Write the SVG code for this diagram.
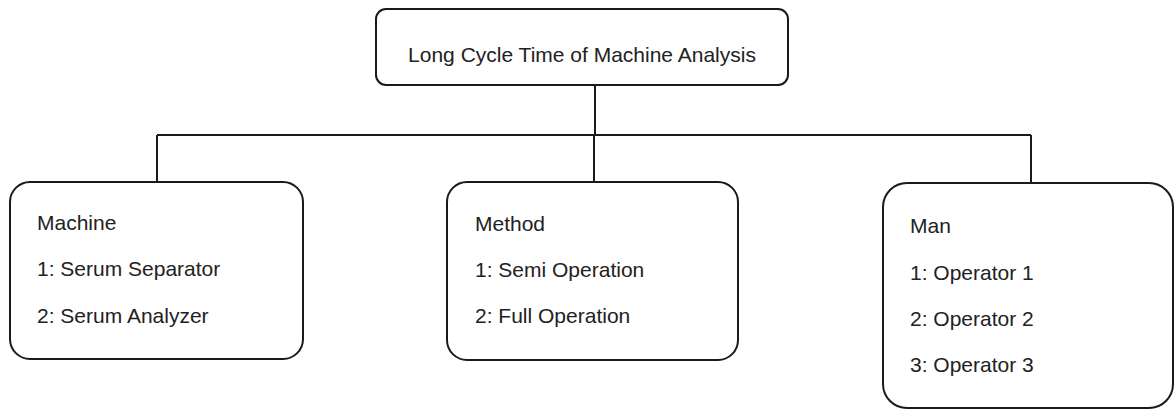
<svg xmlns="http://www.w3.org/2000/svg" width="1175" height="410" viewBox="0 0 1175 410">
<style>
.box{fill:#fff;stroke:#1a1a1a;stroke-width:2}
.t{font-family:"Liberation Sans",Arial,sans-serif;font-size:21px;fill:#222}
.c{fill:none;stroke:#1a1a1a;stroke-width:2}
</style>
<rect width="1175" height="410" fill="#fff"/>
<g id="connectors">
<path class="c" d="M595 85 V135 M157 135 H1031 M157 135 V182 M594 135 V182 M1031 135 V183"/>
</g>
<g id="top">
<rect class="box" x="376" y="9" width="412" height="76" rx="10"/>
<text class="t" x="582" y="62" text-anchor="middle">Long Cycle Time of Machine Analysis</text>
</g>
<g id="machine">
<rect class="box" x="10" y="182" width="293" height="177" rx="20"/>
<text class="t" x="37" y="230">Machine</text>
<text class="t" x="37" y="276">1: Serum Separator</text>
<text class="t" x="37" y="323">2: Serum Analyzer</text>
</g>
<g id="method">
<rect class="box" x="447" y="182" width="291" height="178" rx="20"/>
<text class="t" x="475" y="231">Method</text>
<text class="t" x="475" y="277">1: Semi Operation</text>
<text class="t" x="475" y="323">2: Full Operation</text>
</g>
<g id="man">
<rect class="box" x="883" y="183" width="290" height="225" rx="24"/>
<text class="t" x="910" y="233">Man</text>
<text class="t" x="910" y="280">1: Operator 1</text>
<text class="t" x="910" y="326">2: Operator 2</text>
<text class="t" x="910" y="372">3: Operator 3</text>
</g>
</svg>
